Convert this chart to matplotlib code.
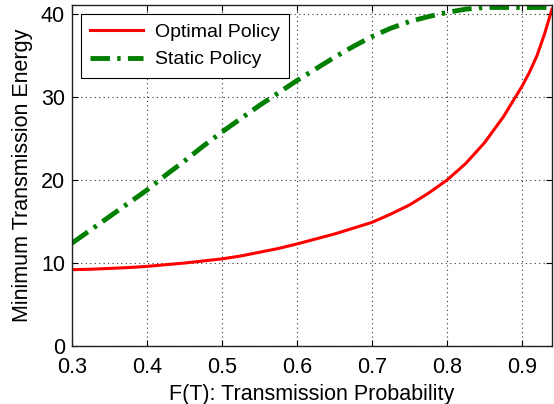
import matplotlib
matplotlib.use("Agg")
import matplotlib.pyplot as plt

# values
opt_prob = [0.30, 0.325, 0.35, 0.375, 0.40, 0.425, 0.45, 0.475, 0.50, 0.525,
            0.55, 0.575, 0.60, 0.625, 0.65, 0.675, 0.70, 0.725, 0.75, 0.775,
            0.80, 0.825, 0.85, 0.875, 0.90, 0.91, 0.92, 0.93, 0.94]
optimal_energy = [9.2, 9.25, 9.35, 9.45, 9.6, 9.8, 10.0, 10.25, 10.5, 10.85,
                  11.3, 11.75, 12.3, 12.9, 13.5, 14.2, 14.9, 15.9, 17.0, 18.4,
                  20.0, 22.0, 24.5, 27.6, 31.3, 33.0, 35.0, 37.6, 40.6]

static_prob = [0.30, 0.325, 0.35, 0.375, 0.40, 0.425, 0.45, 0.475, 0.50, 0.525,
               0.55, 0.575, 0.60, 0.625, 0.65, 0.675, 0.70, 0.725, 0.75, 0.775,
               0.80, 0.825, 0.85, 0.875, 0.94]
static_energy = [12.4, 14.0, 15.6, 17.2, 18.8, 20.6, 22.3, 24.1, 25.8, 27.4,
                 29.0, 30.5, 32.0, 33.4, 34.8, 36.1, 37.3, 38.3, 39.1, 39.7,
                 40.2, 40.6, 40.8, 40.8, 40.8]

plt.rcParams['font.family'] = ['Liberation Sans', 'DejaVu Sans']

fig = plt.figure(figsize=(5.54, 4.04), dpi=100)
ax = fig.add_axes([72 / 554, 1 - 346 / 404, 480 / 554, 341 / 404])

ax.plot(opt_prob, optimal_energy, color='#ff0000', lw=2.2, label='Optimal Policy')
ax.plot(static_prob, static_energy, color='#007f00', lw=3.5,
        linestyle=(0, (4, 1.5, 0.7, 1.5)), label='Static Policy')

ax.set_xlim(0.3, 0.94)
ax.set_ylim(0, 41.1)
ax.set_xticks([0.3, 0.4, 0.5, 0.6, 0.7, 0.8, 0.9])
ax.set_xticklabels(['0.3', '0.4', '0.5', '0.6', '0.7', '0.8', '0.9'])
ax.set_yticks([0, 10, 20, 30, 40])
ax.tick_params(direction='in', top=True, right=True, labelsize=15.5,
               length=4, width=0.8)
ax.tick_params(axis='x', pad=8)
ax.tick_params(axis='y', pad=5)
ax.grid(True, linestyle=(0, (1, 3)), color='#333333', lw=0.8)

for s in ax.spines.values():
    s.set_linewidth(1.0)
    s.set_color('#222222')

ax.set_xlabel('F(T): Transmission Probability', fontsize=15.5, labelpad=4)
ax.set_ylabel('Minimum Transmission Energy', fontsize=15.5, labelpad=6)

leg = ax.legend(loc='upper left', fontsize=14, fancybox=False,
                framealpha=1, edgecolor='black', handlelength=2.7,
                borderaxespad=0.45, borderpad=0.5, labelspacing=0.5,
                handletextpad=0.6)
leg.get_frame().set_linewidth(0.8)

fig.savefig('out.png', dpi=100)
